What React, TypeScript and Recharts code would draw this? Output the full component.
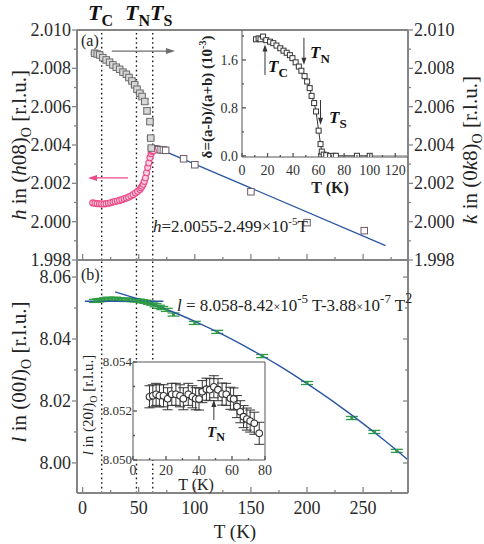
import React from 'react';
import {
  ComposedChart,
  Scatter,
  Line,
  XAxis,
  YAxis,
  ReferenceLine,
  ReferenceDot,
  ErrorBar,
  CartesianGrid,
} from 'recharts';

const W = 484;
const H = 544;
const SERIF = '"Liberation Serif", "Times New Roman", serif';
const FRAME = '#858585';
const INK = '#2a2a2a';
const PINK = '#ec4a88';
const GREEN = '#2f9c46';
const BLUE = '#2b56a3';
const GRAY = '#6c6c6c';

// transition temperatures (K)
const T_C = 17;
const T_N = 48;
const T_S = 62.5;

// (a) k in (0k8)_O below T_S
const kTemps = [10.7, 13, 15.2, 18, 21, 24, 27, 30, 33, 36, 39, 41.3, 44, 46.4, 48.5, 51, 53, 55.4, 57.4, 60, 60.7, 61.2];
const kValues = [2.00879, 2.00875, 2.0087, 2.00856, 2.00844, 2.00832, 2.00818, 2.00806, 2.00795, 2.0078, 2.00769, 2.00752, 2.00734, 2.00714, 2.00691, 2.0067, 2.00653, 2.00627, 2.00578, 2.00522, 2.00436, 2.00384];
const kErrors = [0.00005, 0.00005, 0.00005, 0.00005, 0.00005, 0.00005, 0.00005, 0.00006, 0.00006, 0.00006, 0.00006, 0.00007, 0.00007, 0.00008, 0.00008, 0.00008, 0.0001, 0.00012, 0.00016, 0.0001, 0.00006, 0.00006];

// (a) h in (h08)_O below T_S
const hTemps = [9, 11, 13, 15, 17, 19, 21, 23, 25, 27, 29, 31, 33, 35, 37, 39, 41, 43, 45, 47, 49, 51, 52, 53, 54, 55, 56, 57, 58, 59, 60, 61, 62, 63];
const hValues = [2.00098, 2.00096, 2.00094, 2.00093, 2.00092, 2.00092, 2.00094, 2.00096, 2.00099, 2.00102, 2.00105, 2.00108, 2.00111, 2.00115, 2.00119, 2.00123, 2.00128, 2.00134, 2.00141, 2.00149, 2.00158, 2.00168, 2.00177, 2.00185, 2.00195, 2.0021, 2.00228, 2.00255, 2.00282, 2.00306, 2.00334, 2.00355, 2.00366, 2.0037];

// (a) tetragonal phase, h = k
const tetTemps = [64, 66, 68, 70, 72, 74, 90, 100, 150, 200, 251];
const tetValues = [2.0038, 2.00378, 2.00376, 2.00375, 2.00374, 2.00372, 2.00328, 2.00297, 2.00156, 1.99995, 1.99953];

// linear fit h = 2.0055 - 2.499e-5 T, end points
const hFitTemps = [65, 270];
const hFitValues = [2.00388, 1.99875];

// (b) l in (00l)_O
const lTemps = [11, 14, 17, 20, 23, 26, 29, 32, 35, 38, 41, 44, 47, 50, 53, 56, 59, 62, 65, 68, 71, 75, 81, 100, 120, 160, 200, 240, 260, 280];
const lValues = [8.0523, 8.0525, 8.0526, 8.0528, 8.053, 8.0529, 8.053, 8.0528, 8.0527, 8.0526, 8.0527, 8.0526, 8.0525, 8.0524, 8.0522, 8.052, 8.0517, 8.0514, 8.0509, 8.0504, 8.05, 8.0494, 8.0479, 8.0452, 8.0423, 8.0345, 8.0258, 8.0145, 8.01, 8.0039];
const lError = 0.0005;

// low-temperature constant and quadratic fit l = 8.058 - 8.42e-5 T - 3.88e-7 T^2
const lFlatTemps = [2, 72];
const lFlatValues = [8.0522, 8.0522];
const lFitTemps = [29, 45, 60, 80, 100, 125, 150, 175, 200, 225, 250, 270, 290];
const lFitValues = [8.0552, 8.0534, 8.0515, 8.0488, 8.0457, 8.0414, 8.0366, 8.0314, 8.0256, 8.0194, 8.0127, 8.007, 8.001];

// inset (a): orthorhombic distortion delta (1e-3)
const dTemps = [11, 13, 14.5, 16.5, 19, 22, 24.5, 27, 30, 32.5, 35, 37.5, 39.5, 42, 44.5, 46.5, 49, 51, 53, 54.5, 56.5, 58, 60, 61.5, 62.5, 64, 66, 69, 71.5, 73.5, 90, 100];
const dValues = [1.945, 1.96, 1.945, 1.99, 1.93, 1.905, 1.88, 1.84, 1.795, 1.755, 1.72, 1.68, 1.63, 1.56, 1.49, 1.42, 1.33, 1.24, 1.13, 1.0, 0.88, 0.74, 0.42, 0.195, 0.07, 0.02, 0.01, -0.005, 0.0, 0.0, 0.0, 0.0];
const dTailTemps = [100, 130];
const dTailValues = [0, 0];

// inset (b): l in (20l)_O
const l20Temps = [10, 12, 14, 16, 18.5, 21, 23.5, 26, 28.5, 30.5, 33.5, 36, 38, 40, 42, 44.5, 46.5, 49, 51.5, 54, 56.5, 59, 61, 63, 65, 67, 69, 71, 73.5, 76.5];
const l20Values = [8.05258, 8.05262, 8.05268, 8.05262, 8.05262, 8.0525, 8.05268, 8.05268, 8.05262, 8.0525, 8.05268, 8.05258, 8.0525, 8.05249, 8.05279, 8.05289, 8.05287, 8.05299, 8.05287, 8.05269, 8.05268, 8.05252, 8.05249, 8.05218, 8.05197, 8.05177, 8.05167, 8.05159, 8.0515, 8.05109];
const l20Error = 0.00045;

// axes
const mainTTicks = [0, 25, 50, 75, 100, 125, 150, 175, 200, 225, 250, 275];
const mainTMajors = [0, 50, 100, 150, 200, 250];
const abTicks = [1.998, 1.999, 2.0, 2.001, 2.002, 2.003, 2.004, 2.005, 2.006, 2.007, 2.008, 2.009, 2.01];
const abMajors = [1.998, 2.0, 2.002, 2.004, 2.006, 2.008, 2.01];
const lTicks = [8.0, 8.01, 8.02, 8.03, 8.04, 8.05, 8.06];
const lMajors = [8.0, 8.02, 8.04, 8.06];
const dTTicks = [0, 10, 20, 30, 40, 50, 60, 70, 80, 90, 100, 110, 120];
const dTMajors = [0, 20, 40, 60, 80, 100, 120];
const dTicks = [0, 0.4, 0.8, 1.2, 1.6, 2.0];
const dMajors = [0, 0.8, 1.6];
const l20TTicks = [0, 10, 20, 30, 40, 50, 60, 70, 80];
const l20TMajors = [0, 20, 40, 60, 80];
const l20Ticks = [8.05, 8.051, 8.052, 8.053, 8.054];
const l20Majors = [8.05, 8.052, 8.054];

const rows = (ts: number[], ys: number[], err?: number[] | number) =>
  ts.map((T, i) => ({ T, y: ys[i], err: Array.isArray(err) ? err[i] : err ?? 0 }));

type TickSpec = {
  side: 'left' | 'right' | 'bottom';
  majors: number[];
  size: number;
  minor: number;
  inward?: boolean;
  fmt?: (v: number) => string;
  fontSize?: number;
  gap?: number;
  stroke?: string;
  fill?: string;
};

// tick mark + label drawn together so minor ticks can be shorter
function makeTick(s: TickSpec) {
  return (p: any) => {
    const v = Number(p.payload.value);
    const major = s.majors.some((m) => Math.abs(m - v) < 1e-6);
    const len = major ? s.size : s.minor;
    const out = s.inward ? -1 : 1;
    const fs = s.fontSize ?? 18;
    const gap = s.gap ?? 2;
    const reach = s.inward ? 0 : s.size;
    const stroke = s.stroke ?? FRAME;
    const fill = s.fill ?? INK;
    const label = major && s.fmt ? s.fmt(v) : null;
    const { x, y } = p;
    if (s.side === 'bottom') {
      return (
        <g>
          <line x1={x} y1={y} x2={x} y2={y + out * len} stroke={stroke} strokeWidth={1.3} />
          {label !== null && (
            <text x={x} y={y + reach + gap + fs * 0.68} textAnchor="middle" fontSize={fs} fill={fill} fontFamily={SERIF}>
              {label}
            </text>
          )}
        </g>
      );
    }
    const sgn = s.side === 'left' ? -1 : 1;
    return (
      <g>
        <line x1={x} y1={y} x2={x + sgn * out * len} y2={y} stroke={stroke} strokeWidth={1.3} />
        {label !== null && (
          <text
            x={x + sgn * (reach + gap)}
            y={y + fs * 0.34}
            textAnchor={s.side === 'left' ? 'end' : 'start'}
            fontSize={fs}
            fill={fill}
            fontFamily={SERIF}
          >
            {label}
          </text>
        )}
      </g>
    );
  };
}

const square = (size: number, stroke: string, fill: string) => (p: any) => (
  <rect x={p.cx - size / 2} y={p.cy - size / 2} width={size} height={size} fill={fill} stroke={stroke} strokeWidth={1} />
);

const circle = (r: number, stroke: string, fill: string) => (p: any) => (
  <circle cx={p.cx} cy={p.cy} r={r} fill={fill} stroke={stroke} strokeWidth={1.1} />
);

const arrowHead = (dir: 'left' | 'right' | 'up' | 'down', color: string, len = 8, half = 3) => (p: any) => {
  const { cx, cy } = p;
  const pts =
    dir === 'right'
      ? `${cx},${cy} ${cx - len},${cy - half} ${cx - len},${cy + half}`
      : dir === 'left'
        ? `${cx},${cy} ${cx + len},${cy - half} ${cx + len},${cy + half}`
        : dir === 'up'
          ? `${cx},${cy} ${cx - half},${cy + len} ${cx + half},${cy + len}`
          : `${cx},${cy} ${cx - half},${cy - len} ${cx + half},${cy - len}`;
  return <polygon points={pts} fill={color} />;
};

const dotted = { stroke: '#1a1a1a', strokeDasharray: '1.6 3', strokeWidth: 1.4 };
const frameLine = { stroke: FRAME, strokeWidth: 2 };
const insetLine = { stroke: '#555', strokeWidth: 1 };

function TopPanel() {
  return (
    <ComposedChart width={W} height={H} margin={{ top: 30, right: 36, bottom: 264, left: 37 }}>
      <XAxis
        type="number"
        dataKey="T"
        domain={[-5, 290]}
        allowDataOverflow
        ticks={mainTTicks}
        interval={0}
        height={20}
        axisLine={frameLine}
        tickLine={false}
        tickSize={0}
        tickMargin={0}
        tick={makeTick({ side: 'bottom', majors: mainTMajors, size: 6, minor: 3, inward: true })}
      />
      <YAxis
        type="number"
        domain={[1.998, 2.01]}
        allowDataOverflow
        ticks={abTicks}
        interval={0}
        width={40}
        axisLine={frameLine}
        tickLine={false}
        tickSize={0}
        tickMargin={0}
        tick={makeTick({ side: 'left', majors: abMajors, size: 5, minor: 3, fmt: (v) => v.toFixed(3), gap: 1 })}
      />
      <YAxis
        yAxisId="k"
        orientation="right"
        type="number"
        domain={[1.998, 2.01]}
        allowDataOverflow
        ticks={abTicks}
        interval={0}
        width={40}
        axisLine={frameLine}
        tickLine={false}
        tickSize={0}
        tickMargin={0}
        tick={makeTick({ side: 'right', majors: abMajors, size: 5, minor: 3, fmt: (v) => v.toFixed(3), gap: 1 })}
      />
      <ReferenceLine y={2.01} {...frameLine} />
      <ReferenceLine x={T_C} {...dotted} />
      <ReferenceLine x={T_N} {...dotted} />
      <ReferenceLine x={T_S} {...dotted} />

      {/* arrows pointing to the axis each series belongs to */}
      <ReferenceLine segment={[{ x: 26, y: 2.0089 }, { x: 80, y: 2.0089 }]} stroke={GRAY} strokeWidth={1.2} />
      <ReferenceDot x={82.3} y={2.0089} shape={arrowHead('right', GRAY, 9, 3)} />
      <ReferenceLine segment={[{ x: 40.5, y: 2.00228 }, { x: 7, y: 2.00228 }]} stroke={PINK} strokeWidth={1.2} />
      <ReferenceDot x={4.8} y={2.00228} shape={arrowHead('left', PINK, 9, 3)} />

      <Line data={rows(hFitTemps, hFitValues)} dataKey="y" type="linear" stroke={BLUE} strokeWidth={1.3} dot={false} isAnimationActive={false} />
      <Scatter data={rows(tetTemps, tetValues)} dataKey="y" shape={square(6.5, '#6d5a66', '#fff')} isAnimationActive={false} />
      <Scatter data={rows(hTemps, hValues)} dataKey="y" shape={circle(3, PINK, '#fbd3e3')} isAnimationActive={false} />
      <Scatter yAxisId="k" data={rows(kTemps, kValues, kErrors)} dataKey="y" shape={square(6.5, GRAY, '#d8d8d8')} isAnimationActive={false}>
        <ErrorBar dataKey="err" direction="y" width={4} stroke={GRAY} strokeWidth={1} />
      </Scatter>
    </ComposedChart>
  );
}

function BottomPanel() {
  return (
    <ComposedChart width={W} height={H} margin={{ top: 260, right: 36, bottom: 31, left: 37 }}>
      <XAxis
        type="number"
        dataKey="T"
        domain={[-5, 290]}
        allowDataOverflow
        ticks={mainTTicks}
        interval={0}
        height={20}
        axisLine={frameLine}
        tickLine={false}
        tickSize={0}
        tickMargin={0}
        tick={makeTick({ side: 'bottom', majors: mainTMajors, size: 6, minor: 3, inward: true, fmt: (v) => String(v), gap: 9 })}
      />
      <YAxis
        type="number"
        domain={[7.9903, 8.0655]}
        allowDataOverflow
        ticks={lTicks}
        interval={0}
        width={40}
        axisLine={frameLine}
        tickLine={false}
        tickSize={0}
        tickMargin={0}
        tick={makeTick({ side: 'left', majors: lMajors, size: 5, minor: 3, fmt: (v) => v.toFixed(2), gap: 1 })}
      />
      <YAxis
        yAxisId="r"
        orientation="right"
        type="number"
        domain={[7.9903, 8.0655]}
        allowDataOverflow
        ticks={lTicks}
        interval={0}
        width={40}
        axisLine={frameLine}
        tickLine={false}
        tickSize={0}
        tickMargin={0}
        tick={makeTick({ side: 'right', majors: lMajors, size: 5, minor: 3, inward: true })}
      />
      <ReferenceLine x={T_C} {...dotted} />
      <ReferenceLine x={T_N} {...dotted} />
      <ReferenceLine x={T_S} {...dotted} />

      <Scatter data={rows(lTemps, lValues, lError)} dataKey="y" shape={square(2, GREEN, GREEN)} isAnimationActive={false}>
        <ErrorBar dataKey="err" direction="y" width={6} stroke={GREEN} strokeWidth={1.3} />
      </Scatter>
      <Line data={rows(lFlatTemps, lFlatValues)} dataKey="y" type="linear" stroke={BLUE} strokeWidth={1.4} dot={false} isAnimationActive={false} />
      <Line data={rows(lFitTemps, lFitValues)} dataKey="y" type="monotone" stroke={BLUE} strokeWidth={1.4} dot={false} isAnimationActive={false} />
    </ComposedChart>
  );
}

function DeltaInset() {
  return (
    <ComposedChart width={W} height={H} margin={{ top: 30, right: 76, bottom: 367, left: 202 }}>
      <XAxis
        type="number"
        dataKey="T"
        domain={[0, 130]}
        allowDataOverflow
        ticks={dTTicks}
        interval={0}
        height={20}
        axisLine={insetLine}
        tickLine={false}
        tickSize={0}
        tickMargin={0}
        tick={makeTick({ side: 'bottom', majors: dTMajors, size: 4, minor: 2, inward: true, fmt: (v) => String(v), fontSize: 14, gap: 8, stroke: '#555', fill: '#333' })}
      />
      <YAxis
        type="number"
        domain={[-0.02, 2.1]}
        allowDataOverflow
        ticks={dTicks}
        interval={0}
        width={40}
        axisLine={insetLine}
        tickLine={false}
        tickSize={0}
        tickMargin={0}
        tick={makeTick({ side: 'left', majors: dMajors, size: 4, minor: 2, inward: true, fmt: (v) => v.toFixed(1), fontSize: 14, gap: 4, stroke: '#555', fill: '#333' })}
      />
      <ReferenceLine segment={[{ x: 18, y: 1.35 }, { x: 18, y: 1.78 }]} stroke="#333" strokeWidth={1} />
      <ReferenceDot x={18} y={1.86} shape={arrowHead('up', '#333', 7, 2.5)} />
      <ReferenceLine segment={[{ x: 48.5, y: 1.97 }, { x: 48.5, y: 1.6 }]} stroke="#333" strokeWidth={1} />
      <ReferenceDot x={48.5} y={1.52} shape={arrowHead('down', '#333', 7, 2.5)} />
      <ReferenceLine segment={[{ x: 61.5, y: 0.93 }, { x: 61.5, y: 0.6 }]} stroke="#333" strokeWidth={1} />
      <ReferenceDot x={61.5} y={0.52} shape={arrowHead('down', '#333', 7, 2.5)} />

      <Line data={rows(dTailTemps, dTailValues)} dataKey="y" type="linear" stroke="#999" strokeWidth={1} dot={false} isAnimationActive={false} />
      <Line
        data={rows(dTemps, dValues)}
        dataKey="y"
        type="linear"
        stroke="#333"
        strokeWidth={1}
        dot={square(5, '#333', '#fff')}
        isAnimationActive={false}
      />
    </ComposedChart>
  );
}

function L20Inset() {
  return (
    <ComposedChart width={W} height={H} margin={{ top: 362, right: 219, bottom: 64, left: 93 }}>
      <CartesianGrid fill="#fff" horizontal={false} vertical={false} />
      <XAxis
        type="number"
        dataKey="T"
        domain={[0, 80]}
        allowDataOverflow
        ticks={l20TTicks}
        interval={0}
        height={20}
        axisLine={insetLine}
        tickLine={false}
        tickSize={0}
        tickMargin={0}
        tick={makeTick({ side: 'bottom', majors: l20TMajors, size: 4, minor: 2, inward: true, fmt: (v) => String(v), fontSize: 14, gap: 5, stroke: '#555', fill: '#333' })}
      />
      <YAxis
        type="number"
        domain={[8.05, 8.054]}
        allowDataOverflow
        ticks={l20Ticks}
        interval={0}
        width={40}
        axisLine={insetLine}
        tickLine={false}
        tickSize={0}
        tickMargin={0}
        tick={makeTick({ side: 'left', majors: l20Majors, size: 4, minor: 2, inward: true, fmt: (v) => v.toFixed(3), fontSize: 13, gap: 1, stroke: '#555', fill: '#333' })}
      />
      <ReferenceLine y={8.054} {...insetLine} />
      <ReferenceLine x={80} {...insetLine} />
      <ReferenceLine segment={[{ x: 49, y: 8.05163 }, { x: 49, y: 8.05222 }]} stroke="#333" strokeWidth={1} />
      <ReferenceDot x={49} y={8.05245} shape={arrowHead('up', '#333', 7, 2.5)} />

      <Scatter data={rows(l20Temps, l20Values, l20Error)} dataKey="y" shape={circle(3.3, '#333', '#fff')} isAnimationActive={false}>
        <ErrorBar dataKey="err" direction="y" width={5} stroke="#333" strokeWidth={1} />
      </Scatter>
    </ComposedChart>
  );
}

const TLabel = ({ x, y, sub, size, subSize, drop }: { x: number; y: number; sub: string; size: number; subSize: number; drop: number }) => (
  <text x={x} y={y} fontFamily={SERIF} fontWeight="bold" fill="#111">
    <tspan fontStyle="italic" fontSize={size}>T</tspan>
    <tspan fontSize={subSize} dy={drop}>{sub}</tspan>
  </text>
);

const VText = ({ cx, cy, size, bold, children }: { cx: number; cy: number; size: number; bold?: boolean; children: React.ReactNode }) => (
  <text
    x={cx}
    y={cy + size * 0.35}
    transform={`rotate(-90 ${cx} ${cy})`}
    textAnchor="middle"
    fontFamily={SERIF}
    fontSize={size}
    fontWeight={bold ? 'bold' : 'normal'}
    fill="#222"
  >
    {children}
  </text>
);

function Annotations() {
  return (
    <svg width={W} height={H} style={{ position: 'absolute', left: 0, top: 0, pointerEvents: 'none' }}>
      <TLabel x={88} y={20} sub="C" size={22} subSize={16} drop={6} />
      <TLabel x={125} y={20} sub="N" size={22} subSize={16} drop={6} />
      <TLabel x={150} y={20} sub="S" size={22} subSize={16} drop={6} />

      <text x={81} y={46} fontFamily={SERIF} fontSize={16} fill="#222">(a)</text>
      <text x={81} y={280} fontFamily={SERIF} fontSize={16} fill="#222">(b)</text>

      <text x={153} y={232} fontFamily={SERIF} fontSize={17} fill="#222">
        <tspan fontStyle="italic">h</tspan>=2.0055-2.499×10
        <tspan fontSize={11} dy={-7}>-5</tspan>
        <tspan dy={7}>T</tspan>
      </text>
      <text x={177} y={311} fontFamily={SERIF} fontSize={17} fill="#222">
        <tspan fontStyle="italic">l</tspan> = 8.058-8.42<tspan fontSize={12}>×</tspan>10
        <tspan fontSize={13} dy={-8}>-5</tspan>
        <tspan dy={8}> T-3.88</tspan>
        <tspan fontSize={12}>×</tspan>10
        <tspan fontSize={13} dy={-8}>-7</tspan>
        <tspan dy={8}> T</tspan>
        <tspan fontSize={14} dy={-8}>2</tspan>
      </text>

      <VText cx={19} cy={145} size={21}>
        <tspan fontStyle="italic">h</tspan> in (<tspan fontStyle="italic">h</tspan>08)
        <tspan fontSize={14} dy={5}>O</tspan>
        <tspan dy={-5}> [r.l.u.]</tspan>
      </VText>
      <VText cx={470} cy={150} size={21}>
        <tspan fontStyle="italic">k</tspan> in (0<tspan fontStyle="italic">k</tspan>8)
        <tspan fontSize={14} dy={5}>O</tspan>
        <tspan dy={-5}> [r.l.u.]</tspan>
      </VText>
      <VText cx={19} cy={372} size={21}>
        <tspan fontStyle="italic">l</tspan> in (00<tspan fontStyle="italic">l</tspan>)
        <tspan fontSize={14} dy={5}>O</tspan>
        <tspan dy={-5}> [r.l.u.]</tspan>
      </VText>
      <text x={235} y={538} textAnchor="middle" fontFamily={SERIF} fontSize={19} fill="#222">T (K)</text>

      {/* inset (a) */}
      <VText cx={207} cy={97} size={15} bold>
        δ=(a-b)/(a+b) (10<tspan fontSize={10} dy={-6}>-3</tspan>
        <tspan dy={6}>)</tspan>
      </VText>
      <text x={330} y={193} textAnchor="middle" fontFamily={SERIF} fontSize={16} fontWeight="bold" fill="#222">T (K)</text>
      <TLabel x={268} y={72} sub="C" size={17} subSize={13} drop={5} />
      <TLabel x={310} y={58} sub="N" size={17} subSize={13} drop={5} />
      <TLabel x={329} y={123} sub="S" size={17} subSize={13} drop={5} />

      {/* inset (b) */}
      <VText cx={88} cy={405} size={15}>
        <tspan fontStyle="italic">l</tspan> in (20<tspan fontStyle="italic">l</tspan>)
        <tspan fontSize={10} dy={4}>O</tspan>
        <tspan dy={-4}> [r.l.u.]</tspan>
      </VText>
      <text x={196} y={490} textAnchor="middle" fontFamily={SERIF} fontSize={16} fill="#222">T (K)</text>
      <TLabel x={207} y={437} sub="N" size={15} subSize={12} drop={4} />
    </svg>
  );
}

export default function App() {
  const layer: React.CSSProperties = { position: 'absolute', left: 0, top: 0 };
  return (
    <div style={{ position: 'absolute', left: 0, top: 0, width: W, height: H, background: '#fff', fontFamily: SERIF }}>
      <div style={layer}>
        <BottomPanel />
      </div>
      <div style={layer}>
        <TopPanel />
      </div>
      <div style={layer}>
        <DeltaInset />
      </div>
      <div style={layer}>
        <L20Inset />
      </div>
      <Annotations />
    </div>
  );
}
